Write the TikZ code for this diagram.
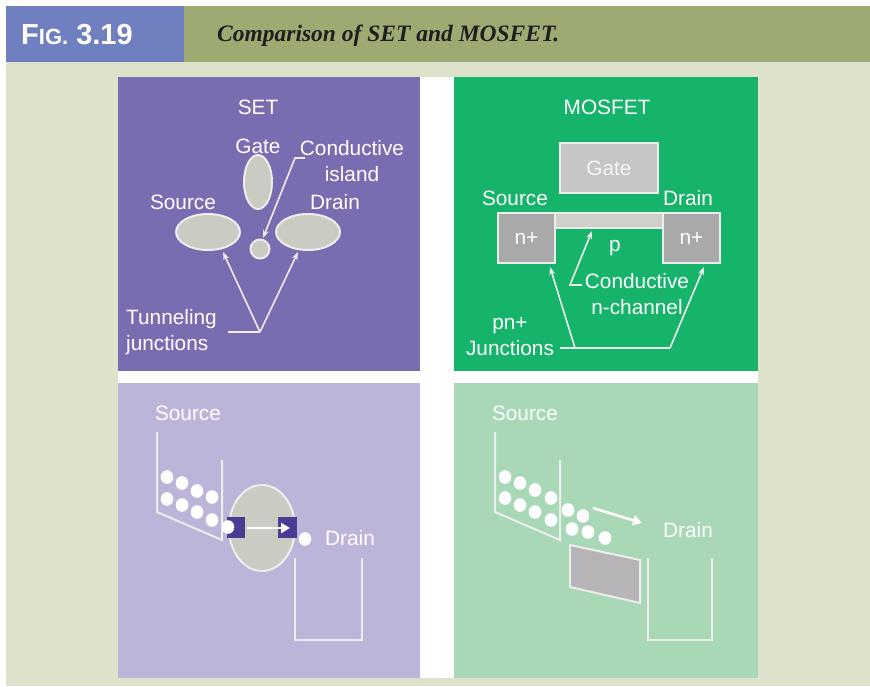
\documentclass[tikz,border=0pt]{standalone}
\usepackage{fontspec}
\setmainfont{Liberation Sans}
\newfontfamily\capfont{Liberation Serif}
\usetikzlibrary{arrows.meta,shapes.geometric}

\definecolor{hdrblue}{HTML}{6F7FC0}
\definecolor{hdrolive}{HTML}{9DAB73}
\definecolor{pagebeige}{HTML}{DEE2CB}
\definecolor{setpurple}{HTML}{7A6CB0}
\definecolor{mosgreen}{HTML}{16B36A}
\definecolor{setlav}{HTML}{BDB5D9}
\definecolor{mosmint}{HTML}{A9D8B6}
\definecolor{partgray}{HTML}{CBCBC4}
\definecolor{gategray}{HTML}{C6C6C6}
\definecolor{dopegray}{HTML}{A9A9A9}
\definecolor{slabgray}{HTML}{B6B4B6}
\definecolor{barrier}{HTML}{4B3C93}
\definecolor{linewhite}{HTML}{EDEDED}
\definecolor{captext}{HTML}{1E1E1E}

\tikzset{
  lbl/.style={text=white, inner sep=0pt, font=\fontsize{20.8}{26}\selectfont},
  part/.style={draw=linewhite, line width=2pt, fill=partgray, inner sep=0pt},
  blob/.style={part, ellipse},
  block/.style={part, rectangle},
  lead/.style={draw=linewhite, line width=1.6pt, -{Stealth[length=8pt,width=6pt]}},
  leadline/.style={draw=linewhite, line width=1.6pt},
  well/.style={draw=linewhite, line width=2pt},
  flow/.style={draw=white, line width=2.6pt, -{Triangle[length=9pt,width=10pt]}},
  electron/.style={fill=white},
}

\begin{document}
\begin{tikzpicture}[x=1pt,y=-1pt]
\useasboundingbox (0,0) rectangle (870,686);
\fill[white] (0,0) rectangle (870,686);

% frame, header bar and caption
\fill[pagebeige] (6,62) rectangle (870,686);
\fill[hdrblue] (6,6) rectangle (184,62);
\fill[hdrolive] (184,6) rectangle (870,62);
\node[anchor=west, text=white, inner sep=0pt] (fignum) at (21,35)
  {\bfseries\fontsize{29}{29}\selectfont F\fontsize{22}{22}\selectfont IG.\fontsize{29}{29}\selectfont\ 3.19};
\node[anchor=west, text=captext, inner sep=0pt] (caption) at (217,36)
  {\capfont\bfseries\itshape\fontsize{23.5}{24}\selectfont Comparison of SET and MOSFET.};

% four panels on a white cross
\fill[white] (118,77) rectangle (758,678);
\fill[setpurple] (118,77) rectangle (420,371);
\fill[mosgreen] (454,77) rectangle (758,371);
\fill[setlav] (118,383) rectangle (420,678);
\fill[mosmint] (454,383) rectangle (758,678);

% ---------- SET structure ----------
\node[lbl] (settitle) at (258,107) {SET};
\node[lbl] (setgatelbl) at (258,146) {Gate};
\node[blob, minimum width=28, minimum height=54] (setgate) at (258,182) {};
\node[blob, minimum width=64, minimum height=36] (setsrc) at (208,232) {};
\node[blob, minimum width=64, minimum height=36] (setdrn) at (308,232) {};
\node[blob, minimum width=19, minimum height=19] (island) at (260,249) {};
\node[lbl] (setsrclbl) at (183,202) {Source};
\node[lbl] (setdrnlbl) at (335,202) {Drain};
\node[lbl, align=center] (islandlbl) at (352,161) {Conductive\\island};
\node[lbl, align=left, anchor=west] (tunlbl) at (126,332) {Tunneling\\junctions};

\coordinate (islandtail) at (305,158);
\coordinate (islandbend) at (295,158);
\coordinate (islandtip) at (263,238);
\draw[lead] (islandtail) -- (islandbend) -- (islandtip);

\coordinate (tunstart) at (228,332);
\coordinate (tunfork) at (260,332);
\coordinate (tunsrc) at (223,252);
\coordinate (tundrn) at (298,252);
\draw[leadline] (tunstart) -- (tunfork);
\draw[lead] (tunfork) -- (tunsrc);
\draw[lead] (tunfork) -- (tundrn);

% ---------- MOSFET structure ----------
\node[lbl] (mostitle) at (607,107) {MOSFET};
\node[block, minimum width=98, minimum height=50, fill=gategray,
      text=white!96!black, font=\fontsize{20.8}{26}\selectfont] (mosgate) at (609,168) {Gate};
\node[lbl] (mossrclbl) at (515,198) {Source};
\node[lbl] (mosdrnlbl) at (688,198) {Drain};
\node[block, minimum width=108, minimum height=15, fill=partgray!90!white] (channel) at (609,220.5) {};
\node[block, fill=dopegray, minimum width=57, minimum height=50, text=white,
      font=\fontsize{20.8}{26}\selectfont] (nsrc) at (526.5,238) {n+};
\node[block, fill=dopegray, minimum width=57, minimum height=50, text=white,
      font=\fontsize{20.8}{26}\selectfont] (ndrn) at (691.5,238) {n+};
\node[lbl] (plbl) at (615,248) {p};
\node[lbl, align=center] (chanlbl) at (637,294) {Conductive\\n-channel};
\node[lbl, align=center] (junclbl) at (510,337) {pn+\\Junctions};

\coordinate (chantail) at (582,285);
\coordinate (chanbend) at (570,285);
\coordinate (chantip) at (592,231);
\draw[lead] (chantail) -- (chanbend) -- (chantip);

\coordinate (juncstart) at (560,348);
\coordinate (juncleft) at (575,348);
\coordinate (juncright) at (670,348);
\coordinate (juncsrc) at (550,267);
\coordinate (juncdrn) at (704,267);
\draw[leadline] (juncstart) -- (juncright);
\draw[lead] (juncleft) -- (juncsrc);
\draw[lead] (juncright) -- (juncdrn);

% ---------- SET energy picture ----------
\node[lbl] (setsrcwell) at (188,413) {Source};
\draw[well] (157,432) -- (157,512) -- (222,540) -- (222,460);
\foreach \ex/\ey in {167/477,182/483,197/491,212/497,167/499,182/505,197/512,212/520}
  \fill[electron] (\ex,\ey) ellipse [x radius=6.3, y radius=6.8];
\node[blob, minimum width=66, minimum height=86] (dot) at (262,528) {};
\fill[barrier] (227,517) rectangle (245,538);
\fill[barrier] (278,517) rectangle (297,538);
\fill[electron] (228,527) ellipse [x radius=6.3, y radius=6.8];
\fill[electron] (305,539) ellipse [x radius=6.3, y radius=6.8];
\coordinate (hopstart) at (247,528);
\coordinate (hopend) at (290,528);
\draw[flow] (hopstart) -- (hopend);
\node[lbl] (setdrnwell) at (350,538) {Drain};
\draw[well] (295,558) -- (295,640) -- (362,640) -- (362,558);

% ---------- MOSFET energy picture ----------
\node[lbl] (mossrcwell) at (525,413) {Source};
\draw[well] (495,432) -- (495,512) -- (560,540) -- (560,460);
\foreach \ex/\ey in {505/477,520/483,535/490,551/498,505/498,520/505,535/512,551/520,
                     568/510,583/516,572/529,588/532,605/538}
  \fill[electron] (\ex,\ey) ellipse [x radius=6.3, y radius=6.8];
\draw[part, fill=slabgray] (570,545) -- (640,560) -- (640,603) -- (570,587) -- cycle;
\coordinate (driftstart) at (593,508);
\coordinate (driftend) at (642,523);
\draw[flow] (driftstart) -- (driftend);
\node[lbl] (mosdrnwell) at (688,530) {Drain};
\draw[well] (648,558) -- (648,640) -- (712,640) -- (712,558);
\end{tikzpicture}
\end{document}
